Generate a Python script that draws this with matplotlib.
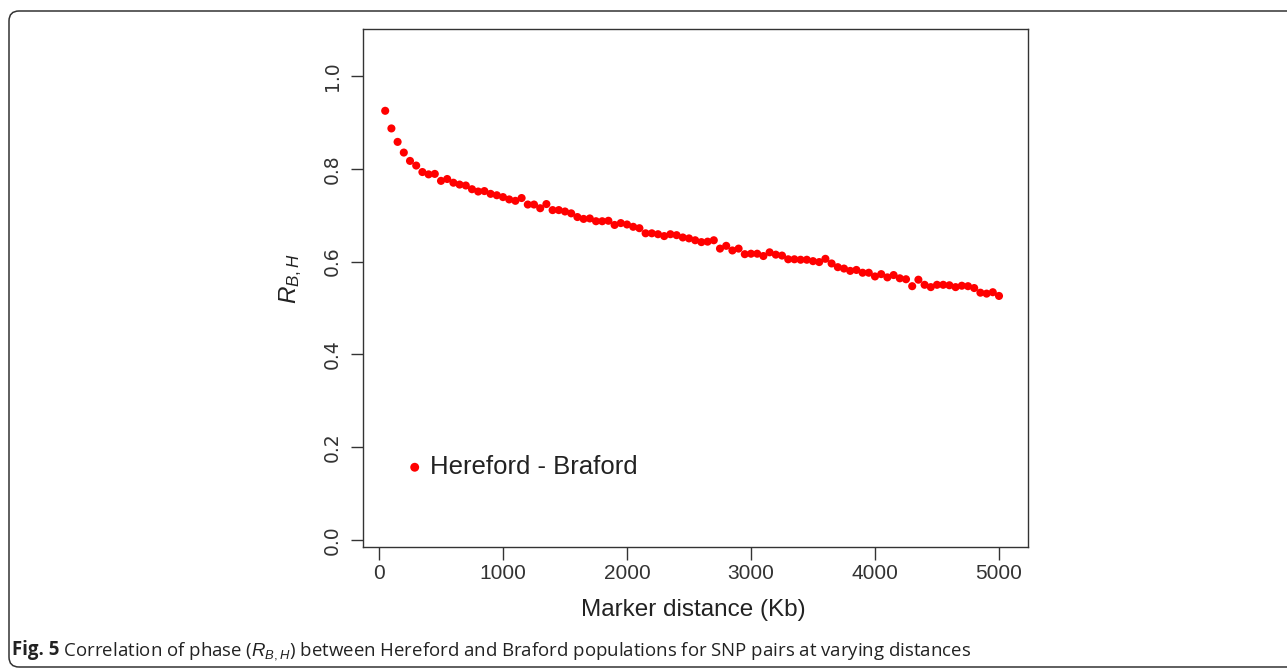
import matplotlib
matplotlib.use('Agg')
import matplotlib.pyplot as plt
from matplotlib.patches import FancyBboxPatch
from matplotlib.transforms import IdentityTransform

# ---- data ----
distance_kb = [50, 100, 150, 200, 250, 300, 350, 400, 450, 500,
               550, 600, 650, 700, 750, 800, 850, 900, 950, 1000,
               1050, 1100, 1150, 1200, 1250, 1300, 1350, 1400, 1450, 1500,
               1550, 1600, 1650, 1700, 1750, 1800, 1850, 1900, 1950, 2000,
               2050, 2100, 2150, 2200, 2250, 2300, 2350, 2400, 2450, 2500,
               2550, 2600, 2650, 2700, 2750, 2800, 2850, 2900, 2950, 3000,
               3050, 3100, 3150, 3200, 3250, 3300, 3350, 3400, 3450, 3500,
               3550, 3600, 3650, 3700, 3750, 3800, 3850, 3900, 3950, 4000,
               4050, 4100, 4150, 4200, 4250, 4300, 4350, 4400, 4450, 4500,
               4550, 4600, 4650, 4700, 4750, 4800, 4850, 4900, 4950, 5000]
r_bh = [0.925, 0.887, 0.858, 0.835, 0.817, 0.807, 0.793, 0.788, 0.789, 0.774,
        0.778, 0.770, 0.766, 0.764, 0.756, 0.751, 0.752, 0.746, 0.743, 0.739,
        0.734, 0.731, 0.737, 0.723, 0.723, 0.715, 0.724, 0.711, 0.711, 0.708,
        0.704, 0.696, 0.692, 0.693, 0.687, 0.687, 0.688, 0.679, 0.683, 0.680,
        0.675, 0.672, 0.661, 0.661, 0.659, 0.655, 0.659, 0.657, 0.652, 0.650,
        0.646, 0.642, 0.643, 0.646, 0.628, 0.634, 0.624, 0.628, 0.616, 0.617,
        0.617, 0.612, 0.620, 0.615, 0.613, 0.605, 0.605, 0.604, 0.604, 0.601,
        0.599, 0.606, 0.596, 0.588, 0.585, 0.580, 0.582, 0.576, 0.576, 0.568,
        0.573, 0.566, 0.571, 0.564, 0.562, 0.547, 0.561, 0.550, 0.545, 0.550,
        0.550, 0.549, 0.545, 0.548, 0.547, 0.543, 0.533, 0.531, 0.534, 0.526]
x_ticks = [0, 1000, 2000, 3000, 4000, 5000]
x_tick_labels = ['0', '1000', '2000', '3000', '4000', '5000']
y_ticks = [0.0, 0.2, 0.4, 0.6, 0.8, 1.0]
y_tick_labels = ['0.0', '0.2', '0.4', '0.6', '0.8', '1.0']
series_name = 'Hereford - Braford'
x_title = 'Marker distance (Kb)'
y_title = r'$R_{B,H}$'
caption_bold = 'Fig. 5'
caption_rest = (r' Correlation of phase ($R_{B,H}$) between Hereford and Braford '
                'populations for SNP pairs at varying distances')

plt.rcParams['mathtext.fontset'] = 'custom'
plt.rcParams['mathtext.it'] = 'Liberation Sans:italic'
plt.rcParams['mathtext.rm'] = 'Liberation Sans'
plt.rcParams['mathtext.bf'] = 'Liberation Sans:bold'

W, H = 1287, 668
fig = plt.figure(figsize=(W / 100, H / 100), dpi=100)
fig.patch.set_facecolor('white')

# axes box in pixel terms
ax_l, ax_r, ax_t, ax_b = 363, 1028, 29, 547
ax = fig.add_axes([ax_l / W, 1 - ax_b / H, (ax_r - ax_l) / W, (ax_b - ax_t) / H])

ax.scatter(distance_kb, r_bh, s=34, color='#ff0000', edgecolors='none',
           label=series_name, zorder=3)

# x: 0 -> px 379, 124 px per 1000
x0_px, xscale = 379, 0.124
ax.set_xlim((ax_l - x0_px) / xscale, (ax_r - x0_px) / xscale)
# y: value v -> px 540 - 464 v
y0_px, yscale = 540, 464
ax.set_ylim((y0_px - ax_b) / yscale, (y0_px - ax_t) / yscale)

ax.set_xticks(x_ticks)
ax.set_xticklabels(x_tick_labels, fontfamily='Liberation Sans', fontsize=15, color='#333333')
ax.set_yticks(y_ticks)
ax.set_yticklabels(y_tick_labels, fontfamily='DejaVu Sans', fontsize=13.5,
                   color='#333333', rotation=90)
for lab in ax.get_yticklabels():
    lab.set_va('center')
ax.tick_params(axis='x', direction='out', length=9.5, width=1.0, color='#333333', pad=3)
ax.tick_params(axis='y', direction='out', length=9, width=1.0, color='#333333', pad=6)
for sp in ax.spines.values():
    sp.set_color('#333333')
    sp.set_linewidth(1.0)

ax.set_xlabel(x_title, fontfamily='Liberation Sans', fontsize=17.5, color='#222222')
ax.xaxis.set_label_coords((693 - ax_l) / (ax_r - ax_l), (ax_b - 599) / (ax_b - ax_t))
ax.set_ylabel(y_title, fontsize=17.5, color='#222222')
ax.yaxis.set_label_coords((304 - ax_l) / (ax_r - ax_l), (ax_b - 279) / (ax_b - ax_t))

leg = ax.legend(loc='center left', bbox_to_anchor=(407 / W, 1 - 467 / H),
                bbox_transform=fig.transFigure, frameon=False,
                handlelength=0.6, handletextpad=0.3, borderpad=0, borderaxespad=0,
                markerscale=1.1, prop={'family': 'Liberation Sans', 'size': 18.5})
for t in leg.get_texts():
    t.set_color('#222222')

# outer rounded border (pixel coordinates)
border = FancyBboxPatch((9, 1), 1300, H - 11 - 1, boxstyle='round,pad=0,rounding_size=10',
                        transform=IdentityTransform(), facecolor='none',
                        edgecolor='#333333', linewidth=1.1, zorder=0)
fig.add_artist(border)

# caption
cap_size = 12.5
cap_y = 1 - 655 / H
t1 = fig.text(12 / W, cap_y, caption_bold, fontfamily='Open Sans', fontweight='bold',
              fontsize=cap_size, color='#222222', va='baseline', ha='left')
fig.canvas.draw()
r = fig.canvas.get_renderer()
bb = t1.get_window_extent(r)
t2 = fig.text(bb.x1 / W, cap_y, caption_rest, fontfamily='Open Sans',
              fontsize=cap_size, color='#222222', va='baseline', ha='left')
fig.canvas.draw()
bb2 = t2.get_window_extent(r)
# scale caption to the reference width (ends near x = 971 px)
scale = (971 - 12) / (bb2.x1 - bb.x0)
new_size = cap_size * scale
t1.set_fontsize(new_size)
fig.canvas.draw()
bb = t1.get_window_extent(r)
t2.set_fontsize(new_size)
t2.set_x(bb.x1 / W)

fig.savefig('out.png', dpi=100)
